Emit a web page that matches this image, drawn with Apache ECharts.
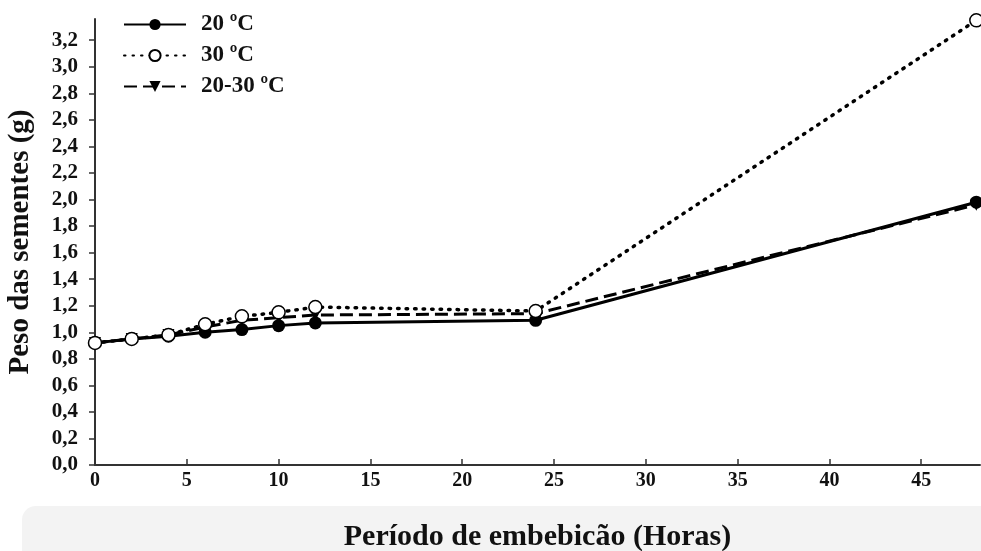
<!DOCTYPE html>
<html>
<head>
<meta charset="utf-8">
<script src="https://cdn.jsdelivr.net/npm/echarts@6/dist/echarts.min.js"></script>
<style>
  html, body { margin: 0; padding: 0; background: #fff; }
  #chart { width: 981px; height: 551px; }
</style>
</head>
<body>
<div id="chart"></div>
<script>
// embebição das sementes, horas x peso (g)
const hours = [0, 2, 4, 6, 8, 10, 12, 24, 48]
const peso20 = [0.92, 0.95, 0.97, 1.00, 1.02, 1.05, 1.07, 1.09, 1.98]
const peso30 = [0.92, 0.95, 0.98, 1.06, 1.12, 1.15, 1.19, 1.16, 3.35]
const peso2030 = [0.92, 0.95, 0.98, 1.04, 1.09, 1.11, 1.13, 1.14, 1.96]
const seriesNames = ['20 ºC', '30 ºC', '20-30 ºC']
const xTicks = [0, 5, 10, 15, 20, 25, 30, 35, 40, 45]
const yTicks = [0, 0.2, 0.4, 0.6, 0.8, 1.0, 1.2, 1.4, 1.6, 1.8, 2.0, 2.2, 2.4, 2.6, 2.8, 3.0, 3.2]

const serif = '"Liberation Serif", "DejaVu Serif", serif'
const pairs = (ys) => hours.map((h, i) => [h, ys[i]])

const chart = echarts.init(document.getElementById('chart'))

const axisText = {
  fontFamily: serif,
  fontWeight: 'bold',
  fontSize: 20,
  color: '#111'
}

const option = {
  animation: false,
  backgroundColor: '#fff',
  graphic: [
    {
      type: 'rect',
      z: -10,
      shape: { x: 22, y: 506, width: 970, height: 60, r: [14, 0, 0, 0] },
      style: { fill: '#f3f3f3' },
      silent: true
    }
  ],
  legend: {
    orient: 'vertical',
    left: 118,
    top: 8,
    itemWidth: 62,
    itemHeight: 14,
    itemGap: 8,
    data: seriesNames,
    textStyle: {
      fontFamily: serif,
      fontWeight: 'bold',
      fontSize: 23,
      color: '#111',
      padding: [0, 0, 0, 10]
    }
  },
  grid: {
    left: 95,
    right: 1,
    top: 19,
    bottom: 86,
    containLabel: false,
    outerBoundsMode: 'none'
  },
  xAxis: {
    type: 'value',
    min: 0,
    max: 48.2,
    name: 'Período de embebicão (Horas)',
    nameLocation: 'middle',
    nameGap: 57,
    nameTextStyle: {
      fontFamily: serif,
      fontWeight: 'bold',
      fontSize: 30,
      color: '#111'
    },
    splitLine: { show: false },
    axisLine: { lineStyle: { color: '#333', width: 2 } },
    axisTick: { inside: true, length: 6, customValues: xTicks, lineStyle: { color: '#333', width: 1.5 } },
    axisLabel: { ...axisText, margin: 6, customValues: xTicks }
  },
  yAxis: {
    type: 'value',
    min: 0,
    max: 3.36,
    name: 'Peso das sementes (g)',
    nameLocation: 'middle',
    nameGap: 60,
    nameTextStyle: {
      fontFamily: serif,
      fontWeight: 'bold',
      fontSize: 29,
      color: '#111'
    },
    splitLine: { show: false },
    axisLine: { show: true, lineStyle: { color: '#333', width: 2 } },
    axisTick: { show: true, length: 6, customValues: yTicks, lineStyle: { color: '#333', width: 1.5 } },
    axisLabel: {
      ...axisText,
      fontSize: 21,
      margin: 17,
      customValues: yTicks,
      formatter: (v) => v.toFixed(1).replace('.', ',')
    }
  },
  series: [
    {
      name: seriesNames[0],
      type: 'line',
      data: pairs(peso20),
      symbol: 'circle',
      symbolSize: 13,
      itemStyle: { color: '#000' },
      lineStyle: { color: '#000', width: 3 },
      z: 3
    },
    {
      name: seriesNames[1],
      type: 'line',
      data: pairs(peso30),
      symbol: 'circle',
      symbolSize: 13,
      itemStyle: { color: '#fff', borderColor: '#000', borderWidth: 1.5 },
      lineStyle: { color: '#000', width: 3.5, type: [1.5, 7], cap: 'round' },
      z: 4
    },
    {
      name: seriesNames[2],
      type: 'line',
      data: pairs(peso2030),
      symbol: 'triangle',
      symbolRotate: 180,
      symbolSize: 12,
      itemStyle: { color: '#000' },
      lineStyle: { color: '#000', width: 3, type: [13, 6] },
      z: 2
    }
  ]
}

chart.setOption(option)
window.addEventListener('resize', () => chart.resize())
</script>
</body>
</html>
